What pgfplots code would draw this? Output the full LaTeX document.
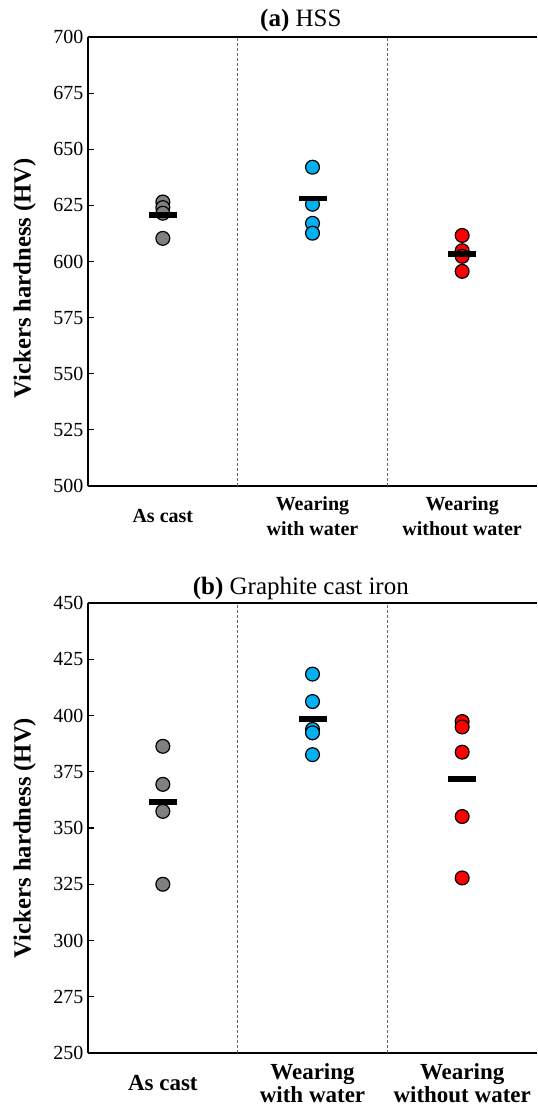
\documentclass[border=0pt]{standalone}
\usepackage{fontspec}
\setmainfont{Liberation Serif}
\usepackage{pgfplots}
\pgfplotsset{compat=1.18}
\definecolor{cgray}{RGB}{128,128,128}
\definecolor{cblue}{RGB}{0,176,240}
\definecolor{cred}{RGB}{255,0,0}
\pgfplotsset{
 panel/.style={
   scale only axis, width=336.75pt, anchor=south west,
   xmin=-0.5, xmax=2.5, xtick={0,1,2},
   axis x line*=box, axis y line*=left,
   axis line style={-, line width=1.1pt},
   xtick style={draw=none},
   ytick align=inside, ytick style={line width=0.9pt, black}, major tick length=4.5pt,
   /pgf/number format/assume math mode=true,
   yticklabel style={font=\fontsize{15}{18}\selectfont},
   ylabel={Vickers hardness (HV)},
   xticklabels={As cast, {Wearing\\with water}, {Wearing\\without water}},
   clip=false,
 },
 ylab/.style={every axis y label/.style={at={(axis description cs:0,#1)}, xshift=-47.5pt, rotate=90, anchor=center, font=\fontsize{18.5}{20}\selectfont\bfseries}},
 pts/.style={only marks, mark=*, mark size=5.2pt, mark options={fill=#1, draw=black, line width=0.9pt}},
 meanbar/.style={only marks, mark=-, mark size=10.5pt, mark options={draw=black, line width=4.3pt}},
 divider/.style={black!60, line width=0.75pt, dash pattern=on 2.25pt off 1.5pt, forget plot},
}
\begin{document}
\begin{tikzpicture}
\path[use as bounding box] (0,0) rectangle (402.75pt,829.5pt);
% (a) HSS
\begin{axis}[panel, at={(66pt,465pt)}, height=336.75pt, ylab=0.463,
  ymin=500, ymax=700, ytick={500,525,...,700},
  xticklabel style={align=center, anchor=center, yshift=-22.5pt, font=\fontsize{15}{18.75}\selectfont\bfseries},
  title={\textbf{(a)} HSS},
  every axis title/.style={at={(axis description cs:0.474,1)}, anchor=center, yshift=12pt, font=\fontsize{18.75}{22}\selectfont},
]
\addplot[divider] coordinates {(0.5,500) (0.5,700)};
\addplot[divider] coordinates {(1.5,500) (1.5,700)};
\addplot[pts=cgray] coordinates {(0,626.5) (0,624) (0,621.5) (0,610.3)};
\addplot[pts=cblue] coordinates {(1,642) (1,625.5) (1,617) (1,612.6)};
\addplot[pts=cred] coordinates {(2,611.6) (2,604.8) (2,602.3) (2,595.6)};
\addplot[meanbar] coordinates {(0,620.8) (1,628) (2,603.4)};
\end{axis}
% (b) Graphite cast iron
\begin{axis}[panel, at={(66pt,39.75pt)}, height=337.5pt, ylab=0.478,
  ymin=250, ymax=450, ytick={250,275,...,450},
  xticklabel style={align=center, anchor=center, yshift=-22.5pt, font=\fontsize{17.25}{17.5}\selectfont\bfseries},
  title={\textbf{(b)} Graphite cast iron},
  every axis title/.style={at={(axis description cs:0.474,1)}, anchor=center, yshift=11.25pt, font=\fontsize{18.75}{22}\selectfont},
]
\addplot[divider] coordinates {(0.5,250) (0.5,450)};
\addplot[divider] coordinates {(1.5,250) (1.5,450)};
\addplot[pts=cgray] coordinates {(0,386.3) (0,369.4) (0,357.4) (0,325)};
\addplot[pts=cblue] coordinates {(1,418.4) (1,406.2) (1,393.8) (1,392.3) (1,382.6)};
\addplot[pts=cred] coordinates {(2,397.3) (2,394.9) (2,383.7) (2,355.1) (2,327.8)};
\addplot[meanbar] coordinates {(0,361.4) (1,398.5) (2,371.8)};
\end{axis}
\end{tikzpicture}
\end{document}
